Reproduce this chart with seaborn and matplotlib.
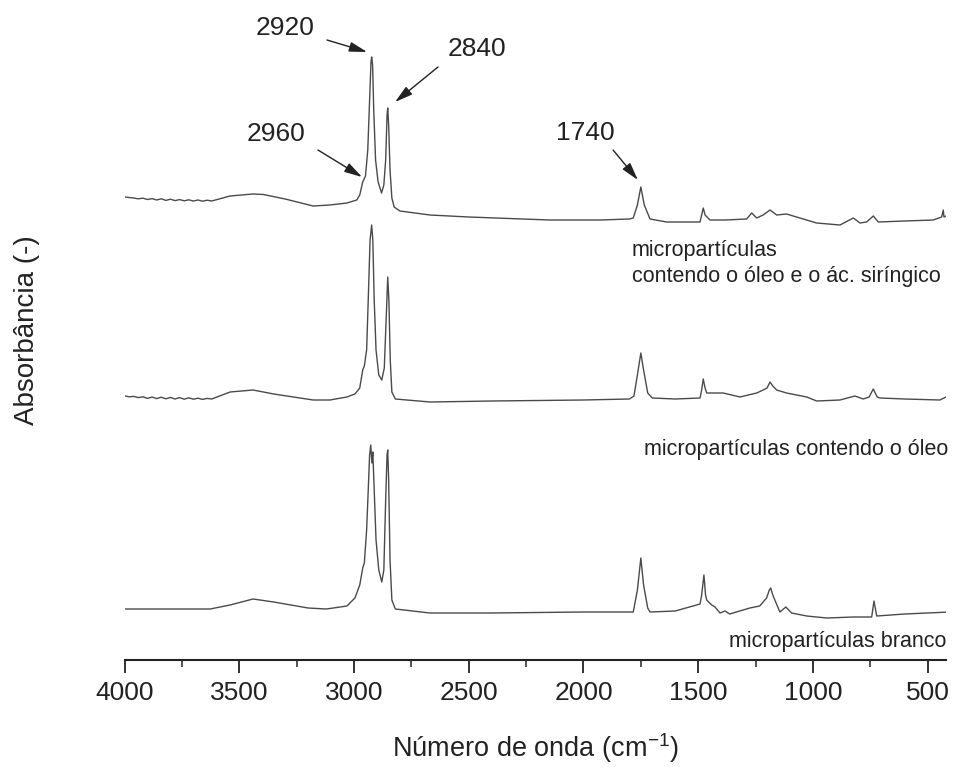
import numpy as np
import pandas as pd
import seaborn as sns
import matplotlib.pyplot as plt
from matplotlib.ticker import MultipleLocator

# Espectros FTIR: número de onda (cm-1) e absorbância relativa à linha de base
wn_oleo_ac = [3997, 3980, 3960, 3940, 3920, 3900, 3880, 3860, 3840, 3820, 3800, 3780, 3760, 3740,
              3720, 3700, 3680, 3660, 3640, 3620, 3540, 3440, 3395,
              3300, 3178, 3105, 3031, 2988, 2975, 2962, 2950, 2940, 2932, 2926, 2923, 2919, 2914,
              2906, 2895, 2880, 2870, 2862, 2856, 2853, 2849, 2843, 2835, 2825, 2800, 2669, 2500,
              2146, 1928, 1800, 1783, 1765, 1750, 1735, 1710, 1638, 1492, 1485, 1478, 1470, 1449,
              1380, 1289, 1267, 1245, 1217, 1187, 1158, 1115, 1057, 984, 882, 824, 795, 766, 737,
              715, 600, 476, 439, 432, 429, 420]
abs_oleo_ac = [0.03, 0.025, 0.02, 0.012, 0.018, 0.005, 0.014, 0.0, 0.012, -0.004, 0.008, -0.006, 0.004, -0.008,
               0.002, -0.01, 0.0, -0.012, -0.002, -0.01, 0.04, 0.06, 0.055,
               0.01, -0.06, -0.05, -0.03, 0.0, 0.05, 0.18, 0.24, 0.50, 1.00, 1.38, 1.43, 1.35, 0.90,
               0.40, 0.18, 0.07, 0.15, 0.40, 0.85, 0.92, 0.75, 0.30, 0.02, -0.07, -0.11, -0.15, -0.17,
               -0.20, -0.20, -0.19, -0.18, -0.05, 0.13, -0.05, -0.19, -0.22, -0.22, -0.15, -0.08, -0.15, -0.20,
               -0.20, -0.19, -0.13, -0.18, -0.15, -0.10, -0.15, -0.14, -0.18, -0.23, -0.25, -0.18, -0.23, -0.22, -0.16,
               -0.22, -0.21, -0.20, -0.17, -0.10, -0.17, -0.16]

wn_oleo = [3997, 3980, 3960, 3940, 3920, 3900, 3880, 3860, 3840, 3820, 3800, 3780, 3760, 3740,
           3720, 3700, 3680, 3660, 3640, 3620, 3540, 3440, 3350,
           3178, 3105, 3031, 2996, 2975, 2962, 2955, 2945, 2938, 2930, 2923, 2918, 2912, 2904,
           2892, 2879, 2868, 2860, 2853, 2848, 2842, 2835, 2820, 2669, 2400, 2000, 1800, 1780,
           1765, 1750, 1738, 1720, 1700, 1600, 1492, 1485, 1478, 1470, 1463, 1391, 1318, 1245,
           1217, 1200, 1187, 1175, 1158, 1115, 1027, 984, 882, 817, 781, 755, 737, 720, 708,
           600, 447, 420]
abs_oleo = [0.02, 0.012, 0.016, 0.004, 0.012, -0.004, 0.01, -0.006, 0.008, -0.008, 0.006, -0.01, 0.004, -0.012,
            0.002, -0.012, -0.002, -0.014, -0.004, -0.01, 0.06, 0.08, 0.04,
            -0.02, -0.02, 0.01, 0.04, 0.10, 0.28, 0.32, 0.48, 0.98, 1.58, 1.73, 1.58, 0.98, 0.48,
            0.23, 0.18, 0.30, 0.78, 1.21, 0.98, 0.38, 0.06, -0.01, -0.04, -0.03, -0.02, -0.01, 0.02,
            0.23, 0.45, 0.28, 0.05, 0.0, -0.01, 0.0, 0.08, 0.19, 0.10, 0.05, 0.05, 0.01, 0.05,
            0.08, 0.10, 0.16, 0.12, 0.08, 0.05, 0.01, -0.03, -0.02, 0.02, -0.01, 0.01, 0.09, 0.01, 0.0,
            -0.01, -0.02, 0.01]

wn_branco = [3997, 3627, 3540, 3440, 3350, 3200, 3120, 3031, 2996, 2975, 2962, 2955, 2945, 2938,
             2932, 2927, 2922, 2918, 2912, 2904, 2892, 2879, 2870, 2862, 2856, 2853, 2849, 2843,
             2835, 2820, 2669, 2400, 2000, 1783, 1765, 1750, 1738, 1720, 1710, 1600, 1492, 1485,
             1475, 1468, 1463, 1441, 1427, 1405, 1383, 1363, 1275, 1232, 1202, 1190, 1184, 1175,
             1166, 1144, 1118, 1093, 1027, 940, 824, 744, 734, 722, 600, 403]
abs_branco = [0.01, 0.01, 0.05, 0.11, 0.08, 0.02, 0.01, 0.04, 0.12, 0.25, 0.42, 0.47, 0.80, 1.20,
              1.55, 1.65, 1.47, 1.58, 1.20, 0.70, 0.40, 0.28, 0.40, 1.10, 1.55, 1.60, 1.30, 0.50,
              0.10, 0.01, -0.03, -0.03, -0.02, -0.02, 0.20, 0.52, 0.25, 0.02, -0.02, -0.01, 0.06, 0.15,
              0.35, 0.15, 0.10, 0.05, 0.03, -0.03, -0.01, -0.04, 0.02, 0.04, 0.12, 0.20, 0.22, 0.15,
              0.10, -0.02, 0.03, -0.03, -0.06, -0.08, -0.07, -0.07, 0.09, -0.06, -0.04, -0.02]

amostras = ["branco", "oleo", "oleo_ac"]
deslocamentos = [0.50, 2.62, 4.60]

df = pd.concat([
    pd.DataFrame({"wn": wn_branco, "A": abs_branco, "amostra": "branco"}),
    pd.DataFrame({"wn": wn_oleo, "A": abs_oleo, "amostra": "oleo"}),
    pd.DataFrame({"wn": wn_oleo_ac, "A": abs_oleo_ac, "amostra": "oleo_ac"}),
])
df["A_desl"] = df["A"] + df["amostra"].map(dict(zip(amostras, deslocamentos)))

sns.set_theme(style="white")
plt.rcParams["font.family"] = ["Liberation Sans", "DejaVu Sans"]
plt.rcParams["mathtext.default"] = "regular"

fig = plt.figure(figsize=(9.58, 7.67), dpi=100)
ax = fig.add_axes([0.13, 0.1395, 0.8575, 0.8605])

for am in amostras:
    sns.lineplot(data=df[df["amostra"] == am], x="wn", y="A_desl", ax=ax,
                 color="#4a4a4a", linewidth=1.0, estimator=None)

ax.set_xlim(4000, 420)
ax.set_ylim(0, 6.6)
ax.xaxis.set_major_locator(MultipleLocator(500))
ax.xaxis.set_minor_locator(MultipleLocator(250))
ax.set_yticks([])
for s in ["top", "right", "left"]:
    ax.spines[s].set_visible(False)
ax.spines["bottom"].set_linewidth(1.5)
ax.spines["bottom"].set_color("#222222")
ax.tick_params(axis="x", which="major", direction="out", length=9, width=1.3,
               labelsize=19, pad=6, bottom=True, colors="#222222")
ax.tick_params(axis="x", which="minor", direction="out", length=5, width=1.1, bottom=True,
               colors="#222222")

ax.set_xlabel("Número de onda (cm$^{-1}$)", fontsize=19.5, labelpad=19, color="#222222")
ax.set_ylabel("Absorbância (-)", fontsize=20, color="#222222")
ax.yaxis.set_label_coords(-0.103, 0.5)

# rótulos dos picos
seta = dict(arrowstyle="-|>,head_length=0.9,head_width=0.25", color="#222222", lw=1.0,
            shrinkA=0, shrinkB=0)
picos = [("2920", (3301, 6.32), (3118, 6.20), (2943, 6.08)),
         ("2840", (2464, 6.11), (2634, 5.93), (2821, 5.58)),
         ("2960", (3340, 5.26), (3157, 5.10), (2965, 4.83)),
         ("1740", (1994, 5.27), (1871, 5.10), (1763, 4.80))]
for txt, pos, ini, fim in picos:
    ax.text(pos[0], pos[1], txt, fontsize=19, ha="center", va="center", color="#222222")
    ax.annotate("", xy=fim, xytext=ini, arrowprops=seta)

ax.text(1789, 3.965, "micropartículas\ncontendo o óleo e o ác. siríngico", fontsize=15.5,
        ha="left", va="center", linespacing=1.35, color="#222222")
ax.text(412, 2.11, "micropartículas contendo o óleo", fontsize=15.5,
        ha="right", va="center", color="#222222", clip_on=False)
ax.text(420, 0.19, "micropartículas branco", fontsize=15.5,
        ha="right", va="center", color="#222222", clip_on=False)

fig.savefig("out.png", dpi=100)
